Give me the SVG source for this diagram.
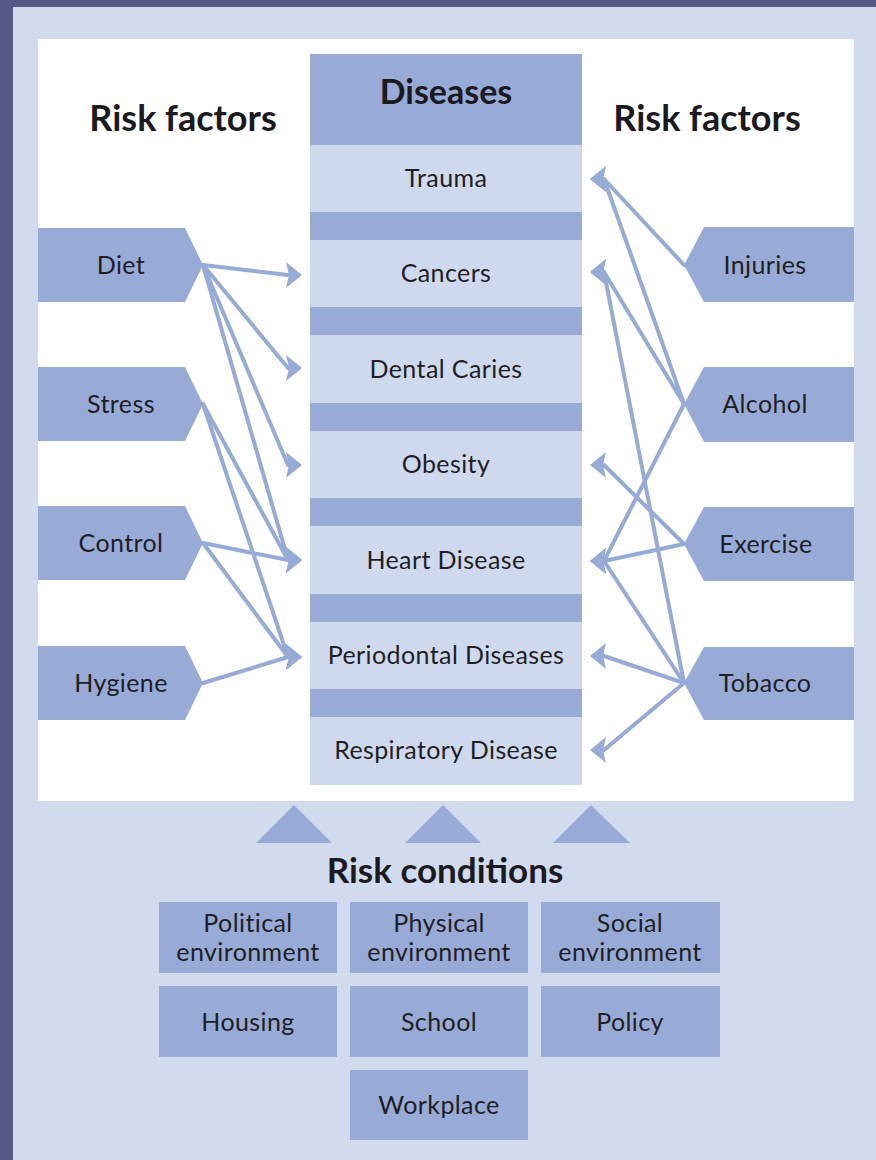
<svg xmlns="http://www.w3.org/2000/svg" width="876" height="1160" viewBox="0 0 876 1160">
<style>
.dark{fill:#98abd6}
.light{fill:#cfd9ed}
.lbl{font-family:Lato,"Liberation Sans",sans-serif;font-size:25px;letter-spacing:0.4px;fill:#1e1e24;text-anchor:middle}
.hd{font-family:Lato,"Liberation Sans",sans-serif;font-weight:bold;font-size:34px;fill:#1a1a20;text-anchor:middle}
.rf{font-size:36px}
.rc{font-size:35px}
.con{stroke:#97abd7;stroke-width:4;fill:none;stroke-linecap:round}
.l{marker-end:url(#hl)}
.r{marker-end:url(#hr)}
</style>
<defs>
<marker id="hl" markerUnits="userSpaceOnUse" markerWidth="20" markerHeight="28" refX="2" refY="14" orient="0"><path d="M0,1 L16,14 L0,27 L3,14 Z" fill="#97abd7"/></marker>
<marker id="hr" markerUnits="userSpaceOnUse" markerWidth="20" markerHeight="28" refX="2" refY="14" orient="180"><path d="M0,1 L16,14 L0,27 L3,14 Z" fill="#97abd7"/></marker>
</defs>
<rect x="0" y="0" width="876" height="1160" fill="#545985"/>
<rect x="13" y="7" width="863" height="1153" fill="#d2dbee"/>
<rect x="38" y="39" width="816" height="762" fill="#ffffff"/>

<g id="title-left"><text class="hd rf" x="183" y="131">Risk factors</text></g>
<g id="title-right"><text class="hd rf" x="707" y="131">Risk factors</text></g>

<g id="diseases">
<rect class="dark" x="310" y="54" width="272" height="731"/>
<text class="hd" x="446" y="104">Diseases</text>
</g>
<g id="d-trauma"><rect class="light" x="310" y="145" width="272" height="67"/><text class="lbl" x="446" y="187">Trauma</text></g>
<g id="d-cancers"><rect class="light" x="310" y="240" width="272" height="67"/><text class="lbl" x="446" y="282">Cancers</text></g>
<g id="d-dental"><rect class="light" x="310" y="335" width="272" height="68"/><text class="lbl" x="446" y="378">Dental Caries</text></g>
<g id="d-obesity"><rect class="light" x="310" y="431" width="272" height="67"/><text class="lbl" x="446" y="473">Obesity</text></g>
<g id="d-heart"><rect class="light" x="310" y="526" width="272" height="68"/><text class="lbl" x="446" y="569">Heart Disease</text></g>
<g id="d-perio"><rect class="light" x="310" y="622" width="272" height="67"/><text class="lbl" x="446" y="664">Periodontal Diseases</text></g>
<g id="d-resp"><rect class="light" x="310" y="717" width="272" height="68"/><text class="lbl" x="446" y="759">Respiratory Disease</text></g>

<g id="rf-diet"><path class="dark" d="M38,228 H185 L203,265 L185,302 H38 Z"/><text class="lbl" x="121" y="274">Diet</text></g>
<g id="rf-stress"><path class="dark" d="M38,367 H185 L203,404 L185,441 H38 Z"/><text class="lbl" x="121" y="413">Stress</text></g>
<g id="rf-control"><path class="dark" d="M38,506 H185 L203,543 L185,580 H38 Z"/><text class="lbl" x="121" y="552">Control</text></g>
<g id="rf-hygiene"><path class="dark" d="M38,646 H185 L203,683 L185,720 H38 Z"/><text class="lbl" x="121" y="692">Hygiene</text></g>

<g id="rf-injuries"><path class="dark" d="M854,227 H704 L684,265 L704,302 H854 Z"/><text class="lbl" x="765" y="274">Injuries</text></g>
<g id="rf-alcohol"><path class="dark" d="M854,367 H704 L684,404 L704,442 H854 Z"/><text class="lbl" x="765" y="413">Alcohol</text></g>
<g id="rf-exercise"><path class="dark" d="M854,507 H704 L684,544 L704,581 H854 Z"/><text class="lbl" x="766" y="553">Exercise</text></g>
<g id="rf-tobacco"><path class="dark" d="M854,647 H704 L684,683 L704,720 H854 Z"/><text class="lbl" x="765" y="692">Tobacco</text></g>

<g id="connectors">
<path class="con l" d="M203,265 L288,275"/>
<path class="con l" d="M203,265 L288,368"/>
<path class="con l" d="M203,265 L288,465"/>
<path class="con l" d="M203,265 L288,560"/>
<path class="con l" d="M203,404 L288,560"/>
<path class="con l" d="M203,404 L288,657"/>
<path class="con l" d="M203,543 L288,560"/>
<path class="con l" d="M203,543 L288,657"/>
<path class="con l" d="M203,683 L288,657"/>
<path class="con r" d="M684,265 L604,179"/>
<path class="con r" d="M684,404 L604,179"/>
<path class="con r" d="M684,404 L604,272"/>
<path class="con r" d="M684,404 L604,561"/>
<path class="con r" d="M684,544 L604,465"/>
<path class="con r" d="M684,544 L604,561"/>
<path class="con r" d="M684,683 L604,272"/>
<path class="con r" d="M684,683 L604,561"/>
<path class="con r" d="M684,683 L604,656"/>
<path class="con r" d="M684,683 L604,750"/>
<polygon class="dark" points="256,843 294,805 332,843"/>
<polygon class="dark" points="405,843 443,805 481,843"/>
<polygon class="dark" points="553,843 591,805 630,843"/>
</g>

<g id="title-bottom"><text class="hd rc" x="445" y="883">Risk conditions</text></g>

<g id="rc-political"><rect class="dark" x="159" y="902" width="178" height="71"/><text class="lbl" x="248" y="932">Political</text><text class="lbl" x="248" y="961">environment</text></g>
<g id="rc-physical"><rect class="dark" x="350" y="902" width="178" height="71"/><text class="lbl" x="439" y="932">Physical</text><text class="lbl" x="439" y="961">environment</text></g>
<g id="rc-social"><rect class="dark" x="541" y="902" width="179" height="71"/><text class="lbl" x="630" y="932">Social</text><text class="lbl" x="630" y="961">environment</text></g>
<g id="rc-housing"><rect class="dark" x="159" y="986" width="178" height="71"/><text class="lbl" x="248" y="1031">Housing</text></g>
<g id="rc-school"><rect class="dark" x="350" y="986" width="178" height="71"/><text class="lbl" x="439" y="1031">School</text></g>
<g id="rc-policy"><rect class="dark" x="541" y="986" width="179" height="71"/><text class="lbl" x="630" y="1031">Policy</text></g>
<g id="rc-workplace"><rect class="dark" x="350" y="1070" width="178" height="70"/><text class="lbl" x="439" y="1114">Workplace</text></g>
</svg>
